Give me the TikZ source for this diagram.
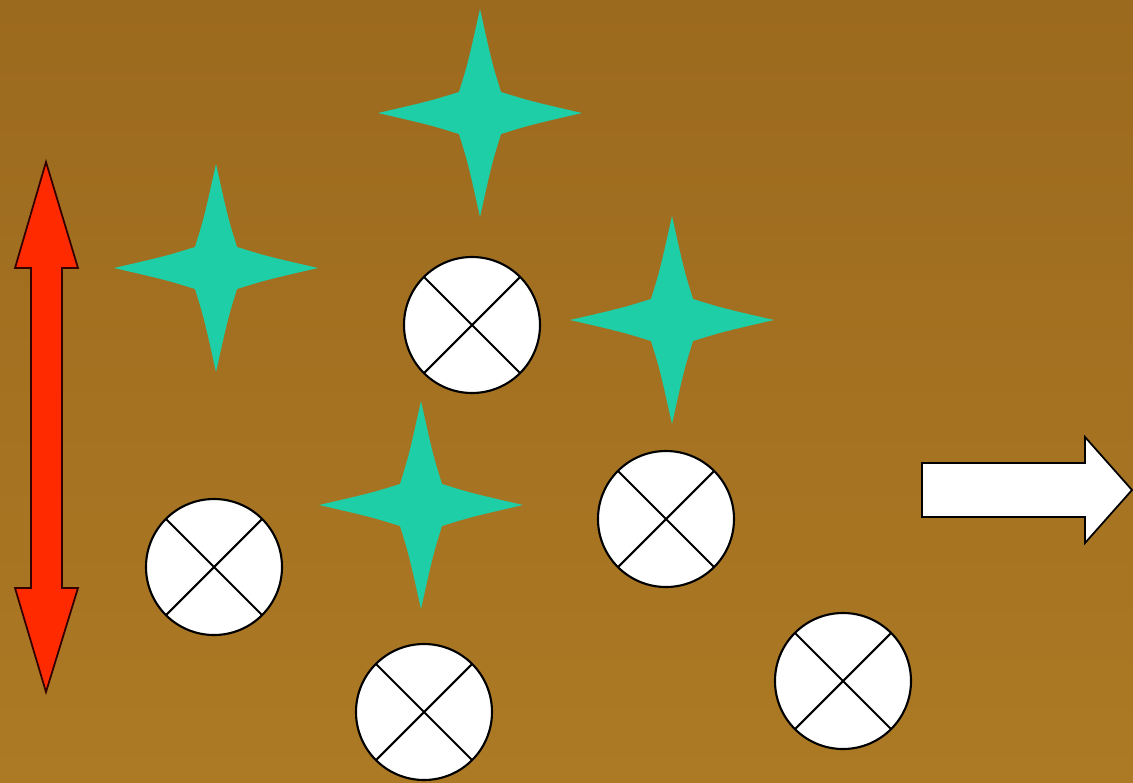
\documentclass[tikz,border=0pt]{standalone}
\usepackage{tikz}
\usetikzlibrary{calc,positioning}
\usepackage{xcolor}
\definecolor{bgtop}{RGB}{156,106,30}
\definecolor{bgbot}{RGB}{172,121,36}
\definecolor{sparkle}{RGB}{30,206,166}
\definecolor{arrowred}{RGB}{255,42,0}

\begin{document}
\begin{tikzpicture}[x=0.02cm, y=-0.02cm,
        sparklestar/.style={fill=sparkle},
        crossdot/.style={draw=black, fill=white, line width=1.2pt},
        redarrow/.style={draw=black!80!red, fill=arrowred, line width=1pt, line join=miter},
        whitearrow/.style={draw=black, fill=white, line width=1pt, line join=miter}]
        % Background
        \useasboundingbox (0,0) rectangle (1133,782);
        \shade[top color=bgtop, bottom color=bgbot] (0,0) rectangle (1133,782);
        
        % Up and down arrow
        \draw[redarrow] (46,162) -- (78,268) -- (62,268) -- (62,588) -- (78,588) -- (46,692)
            -- (15,588) -- (31,588) -- (31,268) -- (15,268) -- cycle;
        
        % Right arrow
        \draw[whitearrow] (922,463) -- (1085,463) -- (1085,437) -- (1132,490)
            -- (1085,543) -- (1085,517) -- (922,517) -- cycle;
        
        % Four point stars
        \foreach \cx/\cy in {216/268, 480/113, 672/320, 421/505}
            \fill[sparklestar, shift={(\cx,\cy)}]
                (0,-104) .. controls (12,-50) .. (21,-21) .. controls (50,-12) .. (102,0)
                .. controls (50,12) .. (21,21) .. controls (12,50) .. (0,104)
                .. controls (-12,50) .. (-21,21) .. controls (-50,12) .. (-102,0)
                .. controls (-50,-12) .. (-21,-21) .. controls (-12,-50) .. (0,-104) -- cycle;
        
        % Crossed circles
        \foreach \cx/\cy in {472/325, 214/567, 666/519, 424/712, 843/681}
            \draw[crossdot, shift={(\cx,\cy)}] (0,0) circle (68)
                (-48,-48) -- (48,48) (-48,48) -- (48,-48);
    \end{tikzpicture}
\end{document}
